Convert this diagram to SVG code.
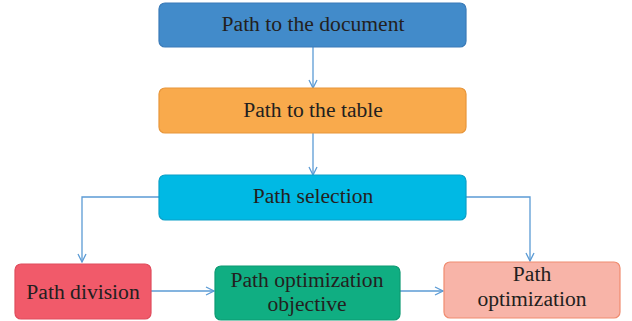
<svg xmlns="http://www.w3.org/2000/svg" width="632" height="321" viewBox="0 0 632 321">
<style>
.box{stroke-width:1.2}
.t{font-family:"Liberation Serif","DejaVu Serif",serif;font-size:21.6px;fill:#231f20;text-anchor:middle}
.c{fill:none;stroke:#5b9bd5;stroke-width:1.3}
</style>
<defs>
<marker id="a" viewBox="0 0 10 10" refX="9" refY="5" markerWidth="10" markerHeight="10" markerUnits="userSpaceOnUse" orient="auto">
<path d="M1,1 L9,5 L1,9" fill="none" stroke="#5b9bd5" stroke-width="1.3"/>
</marker>
</defs>
<rect width="632" height="321" fill="#ffffff"/>
<g id="connectors">
<path class="c" d="M313,47 V88" marker-end="url(#a)"/>
<path class="c" d="M313,133 V175" marker-end="url(#a)"/>
<path class="c" d="M159,197 H82 V262" marker-end="url(#a)"/>
<path class="c" d="M466,197 H530 V261" marker-end="url(#a)"/>
<path class="c" d="M151,291 H214" marker-end="url(#a)"/>
<path class="c" d="M400,291 H443" marker-end="url(#a)"/>
</g>
<g id="n1">
<rect class="box" x="159" y="3" width="307" height="44" rx="6" fill="#428bca" stroke="#3a7bb8"/>
<text class="t" x="313" y="31">Path to the document</text>
</g>
<g id="n2">
<rect class="box" x="159" y="88" width="307" height="45" rx="6" fill="#f9aa4c" stroke="#e8963a"/>
<text class="t" x="313" y="117">Path to the table</text>
</g>
<g id="n3">
<rect class="box" x="159" y="175" width="307" height="45" rx="6" fill="#00b9e4" stroke="#0aa0c8"/>
<text class="t" x="313" y="203">Path selection</text>
</g>
<g id="n4">
<rect class="box" x="15" y="264" width="136" height="55" rx="6" fill="#f15a6a" stroke="#e04c5c"/>
<text class="t" x="83" y="299">Path division</text>
</g>
<g id="n5">
<rect class="box" x="215" y="266" width="185" height="54" rx="6" fill="#10ae82" stroke="#0c9a72"/>
<text class="t" x="307" y="287">Path optimization</text>
<text class="t" x="307" y="311">objective</text>
</g>
<g id="n6">
<rect class="box" x="444" y="262" width="176" height="56" rx="6" fill="#f8b4a8" stroke="#f08c70"/>
<text class="t" x="532" y="281">Path</text>
<text class="t" x="532" y="306">optimization</text>
</g>
</svg>
